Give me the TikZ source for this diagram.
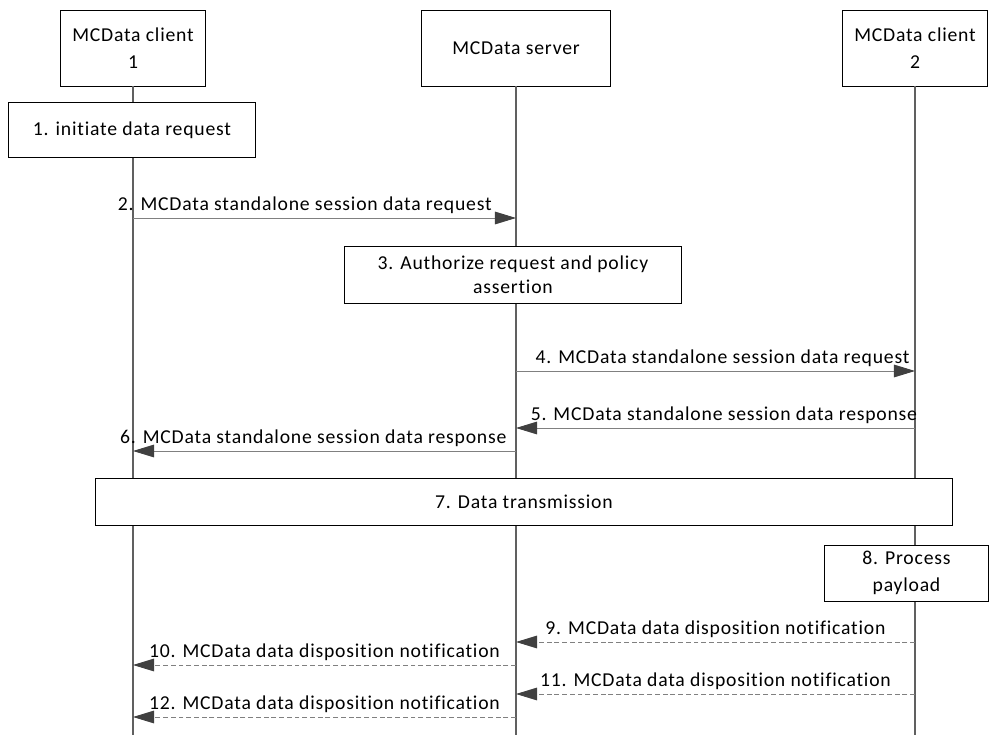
\documentclass[tikz,border=0pt]{standalone}
\usepackage{fontspec}
\setmainfont{Carlito}[Ligatures=NoCommon,LetterSpace=4]
\usetikzlibrary{arrows.meta}
\usetikzlibrary{positioning}
\usetikzlibrary{calc}

\definecolor{lineGrey}{HTML}{808080}
\definecolor{lifeGrey}{HTML}{606060}
\definecolor{tipGrey}{HTML}{404040}

\tikzset{
	entity/.style={draw=black,fill=white,line width=0.7pt,align=center,inner sep=0pt},
	lifeline/.style={draw=lifeGrey,line width=0.8pt},
	msg/.style={draw=lineGrey,line width=0.7pt,-{Triangle[length=15pt,width=9pt,color=tipGrey]}},
	dmsg/.style={msg,dash pattern=on 3.5pt off 2pt},
	lbl/.style={above=2.5pt,inner sep=0pt,text=black}
}

\begin{document}
\begin{tikzpicture}[x=0.025cm,y=-0.025cm,font=\fontsize{14}{19}\selectfont]
		\useasboundingbox (0,0) rectangle (989,735);
		\node[entity,minimum width=3.625cm,minimum height=1.875cm] (cl1) at (133,48.5) {MCData client\\1};
		\node[entity,minimum width=4.7cm,minimum height=1.875cm] (srv) at (516,48.5) {MCData server};
		\node[entity,minimum width=3.6cm,minimum height=1.875cm] (cl2) at (915,48.5) {MCData client\\2};
		\coordinate (bottom) at (0,735);
		\draw[lifeline] (cl1.south) -- (cl1 |- bottom);
		\draw[lifeline] (srv.south) -- (srv |- bottom);
		\draw[lifeline] (cl2.south) -- (cl2 |- bottom);
		\node[entity,minimum width=6.15cm,minimum height=1.35cm] (act1) at (132,130) {1. initiate data request};
		\node[entity,minimum width=8.4cm,minimum height=1.4cm,font=\fontsize{14}{17}\selectfont] (act3) at (513,275) {3. Authorize request and policy\\assertion};
		\node[entity,minimum width=21.425cm,minimum height=1.175cm] (act7) at (524,501.5) {7. Data transmission};
		\node[entity,minimum width=4.075cm,minimum height=1.4cm] (act8) at (906.5,573) {8. Process\\payload};
		\coordinate (y2) at (0,218);
		\coordinate (y4) at (0,371);
		\coordinate (y5) at (0,428);
		\coordinate (y6) at (0,451);
		\coordinate (y9) at (0,642);
		\coordinate (y10) at (0,665);
		\coordinate (y11) at (0,694);
		\coordinate (y12) at (0,717);
		\draw[msg] (cl1 |- y2) -- node[lbl,xshift=-14]{2. MCData standalone session data request} (srv |- y2);
		\draw[msg] (srv |- y4) -- node[lbl,xshift=5]{4. MCData standalone session data request} (cl2 |- y4);
		\draw[msg] (cl2 |- y5) -- node[lbl,xshift=6]{5. MCData standalone session data response} (srv |- y5);
		\draw[msg] (srv |- y6) -- node[lbl,xshift=-8]{6. MCData standalone session data response} (cl1 |- y6);
		\draw[dmsg] (cl2 |- y9) -- node[lbl]{9. MCData data disposition notification} (srv |- y9);
		\draw[dmsg] (srv |- y10) -- node[lbl]{10. MCData data disposition notification} (cl1 |- y10);
		\draw[dmsg] (cl2 |- y11) -- node[lbl]{11. MCData data disposition notification} (srv |- y11);
		\draw[dmsg] (srv |- y12) -- node[lbl]{12. MCData data disposition notification} (cl1 |- y12);
		\end{tikzpicture}
\end{document}
